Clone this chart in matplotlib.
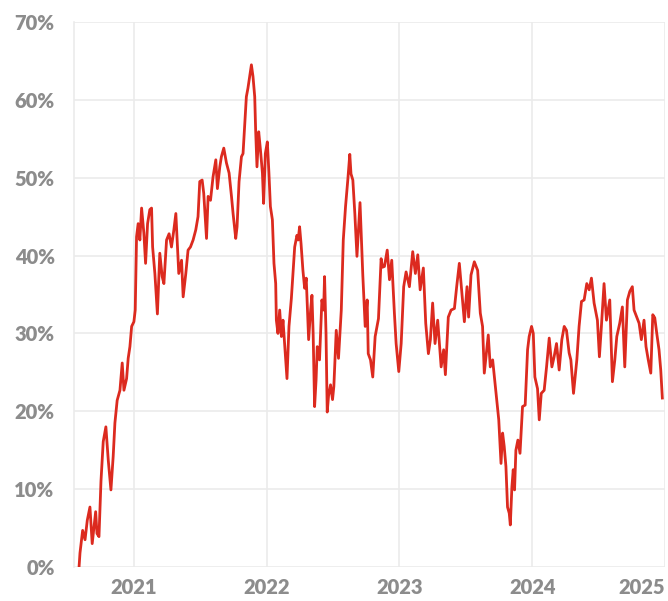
import matplotlib
matplotlib.use("Agg")
import matplotlib.pyplot as plt
from matplotlib.ticker import FuncFormatter

# time in decimal years, cumulative return in %
years = [
    2020.587, 2020.594, 2020.614, 2020.632, 2020.649, 2020.669, 2020.686, 2020.712,
    2020.722, 2020.737, 2020.752, 2020.769, 2020.789, 2020.807, 2020.827, 2020.844,
    2020.857, 2020.874, 2020.895, 2020.912, 2020.925, 2020.945, 2020.957, 2020.970,
    2020.983, 2021.000, 2021.010, 2021.020, 2021.032, 2021.045, 2021.058, 2021.075,
    2021.088, 2021.103, 2021.120, 2021.133, 2021.141, 2021.158, 2021.177, 2021.195,
    2021.213, 2021.226, 2021.246, 2021.265, 2021.283, 2021.301, 2021.316, 2021.338,
    2021.359, 2021.371, 2021.391, 2021.408, 2021.426, 2021.446, 2021.466, 2021.483,
    2021.496, 2021.514, 2021.526, 2021.547, 2021.559, 2021.577, 2021.596, 2021.617,
    2021.629, 2021.647, 2021.659, 2021.677, 2021.697, 2021.717, 2021.735, 2021.747,
    2021.767, 2021.777, 2021.792, 2021.810, 2021.822, 2021.835, 2021.847, 2021.859,
    2021.872, 2021.885, 2021.897, 2021.910, 2021.917, 2021.927, 2021.940, 2021.953,
    2021.968, 2021.977, 2021.990, 2022.005, 2022.017, 2022.028, 2022.043, 2022.055,
    2022.068, 2022.073, 2022.085, 2022.098, 2022.111, 2022.123, 2022.135, 2022.153,
    2022.168, 2022.186, 2022.211, 2022.228, 2022.237, 2022.248, 2022.259, 2022.273,
    2022.286, 2022.298, 2022.316, 2022.331, 2022.341, 2022.350, 2022.361, 2022.372,
    2022.381, 2022.398, 2022.416, 2022.429, 2022.436, 2022.447, 2022.456, 2022.466,
    2022.481, 2022.496, 2022.506, 2022.524, 2022.541, 2022.562, 2022.577, 2022.594,
    2022.611, 2022.626, 2022.635, 2022.649, 2022.664, 2022.680, 2022.703, 2022.724,
    2022.742, 2022.757, 2022.765, 2022.782, 2022.799, 2022.817, 2022.842, 2022.862,
    2022.872, 2022.887, 2022.908, 2022.925, 2022.942, 2022.962, 2022.975, 2022.995,
    2023.013, 2023.032, 2023.050, 2023.075, 2023.100, 2023.120, 2023.138, 2023.156,
    2023.180, 2023.198, 2023.218, 2023.233, 2023.250, 2023.268, 2023.288, 2023.314,
    2023.333, 2023.346, 2023.368, 2023.389, 2023.414, 2023.431, 2023.451, 2023.468,
    2023.489, 2023.509, 2023.521, 2023.539, 2023.564, 2023.589, 2023.609, 2023.626,
    2023.639, 2023.652, 2023.669, 2023.684, 2023.702, 2023.720, 2023.735, 2023.748,
    2023.765, 2023.777, 2023.789, 2023.802, 2023.814, 2023.827, 2023.835, 2023.847,
    2023.857, 2023.867, 2023.877, 2023.892, 2023.908, 2023.927, 2023.947, 2023.965,
    2023.977, 2023.995, 2024.008, 2024.020, 2024.040, 2024.053, 2024.068, 2024.090,
    2024.108, 2024.128, 2024.148, 2024.165, 2024.183, 2024.203, 2024.223, 2024.241,
    2024.258, 2024.278, 2024.291, 2024.311, 2024.336, 2024.353, 2024.371, 2024.391,
    2024.411, 2024.429, 2024.446, 2024.466, 2024.491, 2024.506, 2024.521, 2024.541,
    2024.559, 2024.584, 2024.604, 2024.622, 2024.637, 2024.659, 2024.679, 2024.697,
    2024.717, 2024.735, 2024.754, 2024.767, 2024.787, 2024.805, 2024.822, 2024.842,
    2024.857, 2024.874, 2024.893, 2024.908, 2024.923, 2024.938, 2024.955, 2024.968,
    2024.980,
]

returns = [
    0.0, 1.8, 4.7, 3.5, 6.0, 7.7, 3.0, 7.1,
    4.3, 3.9, 11.0, 16.1, 18.0, 13.7, 9.9, 14.2,
    18.5, 21.4, 22.7, 26.2, 22.7, 24.2, 26.8, 28.3,
    30.9, 31.5, 33.0, 42.4, 44.1, 42.0, 46.1, 42.9,
    39.0, 44.1, 45.9, 46.1, 41.1, 37.7, 32.5, 40.3,
    37.3, 36.4, 42.0, 42.8, 41.1, 43.3, 45.4, 37.7,
    39.4, 34.7, 37.7, 40.7, 41.1, 42.0, 43.3, 45.0,
    49.5, 49.7, 48.0, 42.2, 47.6, 47.1, 50.1, 52.3,
    48.6, 51.4, 52.7, 53.8, 51.9, 50.6, 47.6, 45.4,
    42.2, 43.7, 49.5, 52.7, 53.1, 57.0, 60.4, 61.5,
    63.0, 64.5, 63.0, 60.4, 56.1, 51.4, 55.9, 53.6,
    50.6, 46.7, 53.1, 54.6, 50.6, 46.3, 44.6, 39.0,
    36.4, 31.7, 30.0, 33.0, 29.6, 31.7, 28.7, 24.2,
    30.9, 34.5, 41.1, 42.6, 42.0, 43.7, 41.5, 38.1,
    35.8, 37.1, 29.2, 33.0, 34.9, 30.0, 20.6, 24.0,
    28.3, 26.6, 34.3, 33.0, 37.3, 30.0, 19.9, 22.0,
    23.4, 21.5, 23.2, 30.4, 26.8, 33.0, 42.0, 46.3,
    49.7, 53.0, 50.5, 49.7, 45.4, 39.9, 46.8, 37.5,
    30.9, 34.3, 27.4, 26.6, 24.4, 29.6, 31.9, 39.6,
    38.5, 38.6, 40.7, 36.9, 39.4, 32.6, 28.7, 25.1,
    28.7, 36.0, 37.9, 36.0, 40.5, 37.7, 40.1, 35.6,
    38.4, 31.3, 27.4, 29.2, 33.9, 28.7, 31.7, 25.7,
    27.9, 24.7, 32.1, 33.0, 33.2, 36.0, 39.0, 35.6,
    31.5, 36.0, 32.1, 37.5, 39.2, 38.1, 32.6, 30.9,
    24.9, 27.0, 29.8, 25.7, 26.6, 23.6, 21.0, 18.9,
    13.3, 17.2, 15.5, 12.9, 7.7, 6.9, 5.4, 10.3,
    12.5, 9.9, 15.0, 16.3, 14.6, 20.6, 20.8, 27.9,
    29.6, 30.9, 30.0, 24.4, 22.9, 18.9, 22.3, 22.7,
    25.7, 29.4, 25.7, 27.0, 28.7, 25.3, 29.2, 30.9,
    30.4, 27.5, 26.6, 22.3, 26.6, 30.9, 34.1, 34.3,
    36.4, 35.6, 37.1, 33.9, 31.7, 27.0, 30.9, 36.4,
    31.7, 34.3, 23.8, 26.6, 29.6, 31.3, 33.4, 25.7,
    34.3, 35.4, 36.0, 33.0, 32.1, 31.3, 29.2, 31.7,
    28.3, 26.6, 24.9, 32.4, 32.0, 30.0, 27.9, 25.3,
    21.7,
]

year_ticks = [2021, 2022, 2023, 2024, 2025]
pct_ticks = [0, 10, 20, 30, 40, 50, 60, 70]

grid_col = "#ebebeb"
label_col = "#8c8c8c"

fig = plt.figure(figsize=(6.68, 6.01), dpi=100)
ax = fig.add_axes([0.1108, 0.0566, 0.8847, 0.9068])

ax.plot(years, returns, color="#dc2a1f", lw=2.0, solid_joinstyle="round", zorder=3)

ax.set_xlim(2020.549, 2025.0)
ax.set_ylim(0, 70)
ax.set_xticks(year_ticks)
ax.set_yticks(pct_ticks)
ax.yaxis.set_major_formatter(FuncFormatter(lambda v, p: f"{v:.0f}%"))

ax.grid(True, color=grid_col, lw=1.2, zorder=0)
for side in ["top", "right", "bottom"]:
    ax.spines[side].set_visible(False)
ax.spines["left"].set_color(grid_col)
ax.spines["left"].set_linewidth(1.2)

ax.tick_params(length=0, labelsize=14.5, labelcolor=label_col)
ax.tick_params(axis="y", pad=14)
ax.tick_params(axis="x", pad=8)
for lab in ax.get_xticklabels() + ax.get_yticklabels():
    lab.set_fontfamily("Lato")
    lab.set_fontweight("heavy")
ax.get_xticklabels()[-1].set_ha("right")

fig.savefig("out.png", dpi=100)
